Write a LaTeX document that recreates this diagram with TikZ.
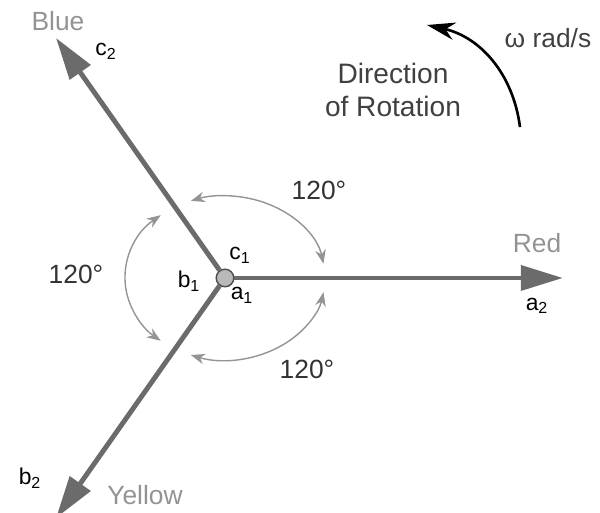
\documentclass[tikz,border=0pt]{standalone}
\usepackage{fontspec}
\setmainfont{Liberation Sans}
\usetikzlibrary{arrows.meta,positioning}
\definecolor{phasorgray}{gray}{0.42}
\definecolor{arcgray}{gray}{0.58}
\tikzset{phasor/.style={line width=2.8pt,draw=phasorgray,-{Triangle[length=24pt,width=14pt]}},
 anglearc/.style={line width=0.8pt,draw=arcgray,{Stealth[length=8pt,width=6pt]}-{Stealth[length=8pt,width=6pt]}},
 colname/.style={text=gray!85,font=\fontsize{15}{17}\selectfont},
 endlbl/.style={font=\fontsize{13}{15}\selectfont,inner sep=1pt},
 degree/.style={text=black!80,font=\fontsize{15}{17}\selectfont},
 spin/.style={line width=1.5pt,-{Stealth[length=16pt,width=10pt]}}}
\begin{document}
\begin{tikzpicture}[x=2cm,y=1.64cm]
\useasboundingbox (-2.25,-2.854) rectangle (3.75,3.39);
% hub and phasor tips
\node[circle,draw=black!70,fill=gray!55,line width=0.8pt,minimum size=10pt,inner sep=0pt] (o) at (0,0) {};
\coordinate (a2) at (0:3.38);
\coordinate (c2) at (120:3.38);
\coordinate (b2) at (240:3.38);

\draw[phasor] (o) -- (a2);
\draw[phasor] (o) -- (c2);
\draw[phasor] (o) -- (b2);

% 120 degree arcs
\foreach \a in {0,120,240}
  \draw[anglearc] ({\a+10}:1) arc[start angle=\a+10,end angle=\a+110,x radius=2cm,y radius=1.64cm];

\node[endlbl] (lc1) at (0.15,0.28) {c\textsubscript{1}};
\node[endlbl] (la1) at (0.17,-0.21) {a\textsubscript{1}};
\node[endlbl] (lb1) at (-0.36,-0.04) {b\textsubscript{1}};
\node[endlbl] (lc2) at (-1.19,2.76) {c\textsubscript{2}};
\node[endlbl] (la2) at (3.12,-0.34) {a\textsubscript{2}};
\node[endlbl] (lb2) at (-1.95,-2.44) {b\textsubscript{2}};

\node[colname] (blue) at (-1.67,3.13) {Blue};
\node[colname] (red) at (3.12,0.42) {Red};
\node[colname] (yellow) at (-0.80,-2.65) {Yellow};

\node[degree] (degtop) at (0.94,1.07) {120°};
\node[degree] (degleft) at (-1.49,0.04) {120°};
\node[degree] (degbot) at (0.82,-1.12) {120°};

% direction of rotation
\node[text=black!75,font=\fontsize{16}{19}\selectfont,align=center] (dirtext) at (1.68,2.29) {Direction\\of Rotation};
\node[text=black!75,font=\fontsize{15}{17}\selectfont] (omega) at (3.23,2.93) {ω rad/s};
\coordinate (spinS) at (2.95,1.84);
\coordinate (spinE) at (2.02,3.085);
\draw[spin] (spinS) to[bend right=35] (spinE);
\end{tikzpicture}
\end{document}
